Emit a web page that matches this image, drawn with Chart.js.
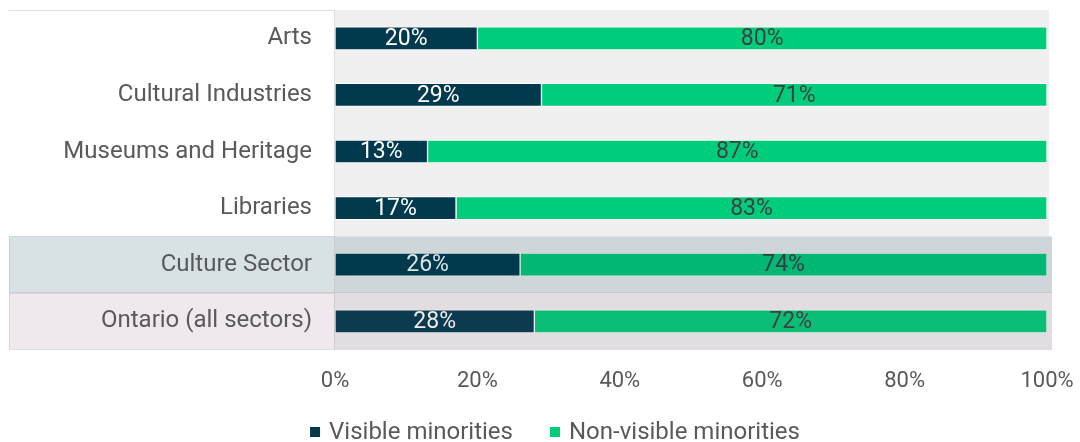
<!DOCTYPE html>
<html>
<head>
<meta charset="utf-8">
<script src="https://cdn.jsdelivr.net/npm/chart.js@4"></script>
<style>
  html, body { margin: 0; padding: 0; background: #ffffff; }
  #wrap { width: 1080px; height: 442px; }
</style>
</head>
<body>
<div id="wrap"><canvas id="chart"></canvas></div>
<script>
// Share of workers by visible-minority status, per sector
const categories = ['Arts', 'Cultural Industries', 'Museums and Heritage', 'Libraries', 'Culture Sector', 'Ontario (all sectors)'];
const visibleMinorities = [20, 29, 13, 17, 26, 28];
const nonVisibleMinorities = [80, 71, 87, 83, 74, 72];
const xTickValues = [0, 20, 40, 60, 80, 100];
const seriesNames = ['Visible minorities', 'Non-visible minorities'];

const DARK = '#023a4d';
const GREEN = '#00cd7b';
const TEXT = '#595959';
const FONT = 'Roboto, "Noto Sans", sans-serif';

// Summary rows (sector total, province): panel fill behind the label, tint over the bars
const rowPanel = [null, null, null, null, '#d8e1e4', '#efe8ec'];
const rowTint = [null, null, null, null, 'rgba(0,58,77,0.14)', 'rgba(110,60,90,0.10)'];

const panelPlugin = {
  id: 'panels',
  beforeDraw(chart) {
    const { ctx, chartArea } = chart;
    const n = categories.length;
    const step = (chartArea.bottom - chartArea.top) / n;
    ctx.save();
    ctx.fillStyle = '#ffffff';
    ctx.fillRect(0, 0, chart.width, chart.height);
    // grey plot backdrop
    const plainRows = rowTint.filter(t => !t).length;
    const plainBottom = chartArea.top + step * plainRows;
    ctx.fillStyle = '#f0f0f0';
    ctx.fillRect(chartArea.left, chartArea.top, chartArea.right - chartArea.left + 2, plainBottom - chartArea.top);
    ctx.fillRect(chartArea.left, plainBottom, chartArea.right - chartArea.left + 5, chartArea.bottom - plainBottom);
    // label panels for the summary rows
    rowPanel.forEach((fill, i) => {
      if (!fill) return;
      const top = chartArea.top + step * i;
      ctx.fillStyle = fill;
      ctx.fillRect(9, top, chartArea.left - 9, step);
    });
    // label panel outline
    ctx.strokeStyle = '#dedede';
    ctx.lineWidth = 1;
    ctx.beginPath();
    ctx.moveTo(9, chartArea.top + 0.5);
    ctx.lineTo(chartArea.left - 0.5, chartArea.top + 0.5);
    ctx.lineTo(chartArea.left - 0.5, chartArea.bottom);
    ctx.stroke();
    ctx.strokeStyle = 'rgba(0,0,0,0.08)';
    rowPanel.forEach((fill, i) => {
      if (!fill) return;
      const top = Math.round(chartArea.top + step * i);
      const bot = Math.round(chartArea.top + step * (i + 1));
      ctx.strokeRect(9.5, top + 0.5, chartArea.left - 10, bot - top - 1);
    });
    ctx.restore();
  },
  afterDatasetsDraw(chart) {
    const { ctx, chartArea } = chart;
    const n = categories.length;
    const step = (chartArea.bottom - chartArea.top) / n;
    ctx.save();
    // value labels centred in each segment
    ctx.font = '23px ' + FONT;
    ctx.textAlign = 'center';
    ctx.textBaseline = 'middle';
    chart.data.datasets.forEach((ds, di) => {
      const meta = chart.getDatasetMeta(di);
      meta.data.forEach((bar, i) => {
        const p = bar.getProps(['x', 'y', 'base'], true);
        const cx = (p.x + p.base) / 2;
        ctx.fillStyle = di === 0 ? '#ffffff' : '#404040';
        ctx.fillText(ds.data[i] + '%', cx, p.y + 1);
      });
    });
    // tint laid over the bars of the summary rows
    rowTint.forEach((tint, i) => {
      if (!tint) return;
      const top = chartArea.top + step * i;
      ctx.fillStyle = tint;
      ctx.fillRect(chartArea.left, top, chartArea.right + 5 - chartArea.left, step);
      ctx.strokeStyle = 'rgba(0,0,0,0.06)';
      ctx.lineWidth = 1;
      ctx.beginPath();
      ctx.moveTo(chartArea.left, Math.round(top + step) - 0.5);
      ctx.lineTo(chartArea.right + 5, Math.round(top + step) - 0.5);
      ctx.stroke();
    });
    ctx.restore();
  },
  afterDraw(chart) {
    // legend row below the axis
    const { ctx } = chart;
    const colors = [DARK, GREEN];
    const box = 10, gapText = 9, gapItem = 37;
    ctx.save();
    ctx.font = '24px ' + FONT;
    ctx.textBaseline = 'middle';
    ctx.textAlign = 'left';
    const widths = seriesNames.map(s => ctx.measureText(s).width);
    const total = widths.reduce((a, w) => a + box + gapText + w, 0) + gapItem * (seriesNames.length - 1);
    let x = 555 - total / 2;
    const cy = 432;
    seriesNames.forEach((name, i) => {
      ctx.fillStyle = colors[i];
      ctx.fillRect(x, cy - box / 2, box, box);
      ctx.fillStyle = TEXT;
      ctx.fillText(name, x + box + gapText, cy + 1);
      x += box + gapText + widths[i] + gapItem;
    });
    ctx.restore();
  }
};

new Chart(document.getElementById('chart'), {
  type: 'bar',
  data: {
    labels: categories,
    datasets: [
      { label: seriesNames[0], data: visibleMinorities, backgroundColor: DARK, borderColor: '#ffffff', borderWidth: 1, borderSkipped: false, barThickness: 23 },
      { label: seriesNames[1], data: nonVisibleMinorities, backgroundColor: GREEN, borderColor: '#ffffff', borderWidth: 1, borderSkipped: false, barThickness: 23 }
    ]
  },
  options: {
    indexAxis: 'y',
    responsive: true,
    maintainAspectRatio: false,
    animation: false,
    layout: { padding: { top: 10, left: 0, right: 33, bottom: 28 } },
    scales: {
      x: {
        stacked: true,
        min: 0, max: 100,
        border: { display: false },
        grid: { display: false, drawTicks: false },
        afterBuildTicks(scale) { scale.ticks = xTickValues.map(v => ({ value: v })); },
        afterFit(scale) { scale.paddingLeft = 0; scale.paddingRight = 0; },
        ticks: {
          padding: 19,
          maxRotation: 0,
          color: TEXT,
          font: { family: FONT, size: 22 },
          callback: v => v + '%'
        }
      },
      y: {
        stacked: true,
        border: { display: false },
        grid: { display: false, drawTicks: false },
        afterFit(scale) { scale.width = 335; scale.paddingTop = 0; scale.paddingBottom = 0; },
        ticks: {
          padding: 23,
          color: TEXT,
          font: { family: FONT, size: 24 }
        }
      }
    },
    plugins: {
      tooltip: { enabled: false },
      legend: { display: false }
    }
  },
  plugins: [panelPlugin]
});
</script>
</body>
</html>
